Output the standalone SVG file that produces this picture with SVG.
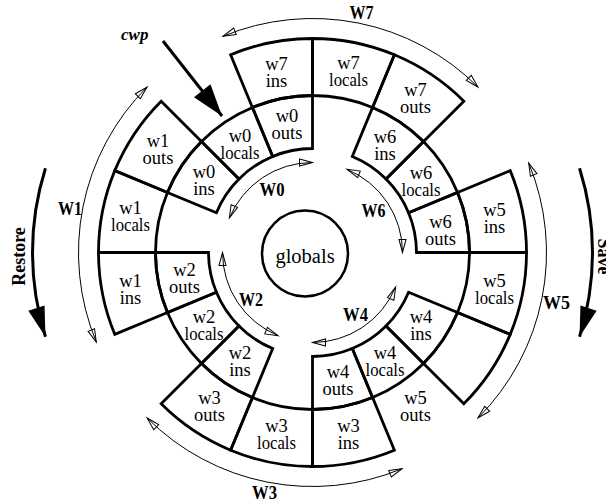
<svg xmlns="http://www.w3.org/2000/svg" width="606" height="502" viewBox="0 0 606 502">
<style>
.cellp{fill:none;stroke:#000;stroke-width:2.8;stroke-linejoin:miter}
.t{font-family:"Liberation Serif","Times New Roman",serif;font-size:18.5px;text-anchor:middle;fill:#000}
.wl{font-family:"Liberation Serif","Times New Roman",serif;font-size:18px;font-weight:bold;text-anchor:middle;fill:#000}
.thin{fill:none;stroke:#000;stroke-width:1;marker-start:url(#open);marker-end:url(#open)}
.thick{fill:none;stroke:#000;stroke-width:3}
</style>
<defs>
<marker id="open" markerUnits="userSpaceOnUse" markerWidth="20" markerHeight="20" refX="0" refY="0" orient="auto-start-reverse" style="overflow:visible">
<path d="M-13,-3.5 L0,0 L-13,3.5 Z" fill="none" stroke="#000" stroke-width="1"/>
</marker>
<marker id="big" markerUnits="userSpaceOnUse" markerWidth="40" markerHeight="30" refX="0" refY="0" orient="auto" style="overflow:visible">
<path d="M-30,-8.5 L0,0 L-30,8.5 Z" fill="#000"/>
</marker>
<marker id="cwpm" markerUnits="userSpaceOnUse" markerWidth="40" markerHeight="30" refX="0" refY="0" orient="auto" style="overflow:visible">
<path d="M-32,-10.5 L0,0 L-32,10.5 Z" fill="#000"/>
</marker>
</defs>
<rect width="606" height="502" fill="#fff"/>

<g id="globals">
<circle cx="305" cy="253.5" r="43" fill="none" stroke="#000" stroke-width="2.5"/>
<text class="t" x="305" y="263" style="font-size:20.5px">globals</text>
</g>

<g id="w0">
<path class="cellp" d="M216.42,212.70 L167.45,192.42 A157,157 0 0 1 201.48,141.48 L238.96,178.96 A104,104 0 0 0 216.42,212.70Z"/>
<path class="cellp" d="M238.96,178.96 L201.48,141.48 A157,157 0 0 1 252.42,107.45 L272.70,156.42 A104,104 0 0 0 238.96,178.96Z"/>
<path class="cellp" d="M272.70,156.42 L252.42,107.45 A157,157 0 0 1 312.5,95.5 L312.5,148.5 A104,104 0 0 0 272.70,156.42Z"/>
<text class="t" x="204" y="177.5">w0</text><text class="t" x="204" y="194.5">ins</text>
<text class="t" x="240" y="141.5">w0</text><text class="t" x="240" y="158.5" textLength="39" lengthAdjust="spacingAndGlyphs">locals</text>
<text class="t" x="287" y="122">w0</text><text class="t" x="287" y="139">outs</text>
</g>

<g id="w1">
<path class="cellp" d="M167.45,312.58 L114.79,334.39 A214,214 0 0 1 98.5,252.5 L155.5,252.5 A157,157 0 0 0 167.45,312.58Z"/>
<path class="cellp" d="M155.5,252.5 L98.5,252.5 A214,214 0 0 1 114.79,170.61 L167.45,192.42 A157,157 0 0 0 155.5,252.5Z"/>
<path class="cellp" d="M167.45,192.42 L114.79,170.61 A214,214 0 0 1 161.18,101.18 L201.48,141.48 A157,157 0 0 0 167.45,192.42Z"/>
<text class="t" x="158" y="147">w1</text><text class="t" x="158" y="164">outs</text>
<text class="t" x="130.5" y="214">w1</text><text class="t" x="130.5" y="231" textLength="39" lengthAdjust="spacingAndGlyphs">locals</text>
<text class="t" x="130.5" y="286.5">w1</text><text class="t" x="130.5" y="303.5">ins</text>
</g>

<g id="w2">
<path class="cellp" d="M272.70,348.58 L252.42,397.55 A157,157 0 0 1 201.48,363.52 L238.96,326.04 A104,104 0 0 0 272.70,348.58Z"/>
<path class="cellp" d="M238.96,326.04 L201.48,363.52 A157,157 0 0 1 167.45,312.58 L216.42,292.30 A104,104 0 0 0 238.96,326.04Z"/>
<path class="cellp" d="M216.42,292.30 L167.45,312.58 A157,157 0 0 1 155.5,252.5 L208.5,252.5 A104,104 0 0 0 216.42,292.30Z"/>
<text class="t" x="184.5" y="275.5">w2</text><text class="t" x="184.5" y="292.5">outs</text>
<text class="t" x="204" y="322.5">w2</text><text class="t" x="204" y="339.5" textLength="39" lengthAdjust="spacingAndGlyphs">locals</text>
<text class="t" x="240" y="358.5">w2</text><text class="t" x="240" y="375.5">ins</text>
</g>

<g id="w3">
<path class="cellp" d="M372.58,397.55 L394.39,450.21 A214,214 0 0 1 312.5,466.5 L312.5,409.5 A157,157 0 0 0 372.58,397.55Z"/>
<path class="cellp" d="M312.5,409.5 L312.5,466.5 A214,214 0 0 1 230.61,450.21 L252.42,397.55 A157,157 0 0 0 312.5,409.5Z"/>
<path class="cellp" d="M252.42,397.55 L230.61,450.21 A214,214 0 0 1 161.18,403.82 L201.48,363.52 A157,157 0 0 0 252.42,397.55Z"/>
<text class="t" x="209.5" y="404">w3</text><text class="t" x="209.5" y="421">outs</text>
<text class="t" x="276.5" y="432">w3</text><text class="t" x="276.5" y="449" textLength="39" lengthAdjust="spacingAndGlyphs">locals</text>
<text class="t" x="348.5" y="432">w3</text><text class="t" x="348.5" y="449">ins</text>
</g>

<g id="w4">
<path class="cellp" d="M408.58,292.30 L457.55,312.58 A157,157 0 0 1 423.52,363.52 L386.04,326.04 A104,104 0 0 0 408.58,292.30Z"/>
<path class="cellp" d="M386.04,326.04 L423.52,363.52 A157,157 0 0 1 372.58,397.55 L352.30,348.58 A104,104 0 0 0 386.04,326.04Z"/>
<path class="cellp" d="M352.30,348.58 L372.58,397.55 A157,157 0 0 1 312.5,409.5 L312.5,356.5 A104,104 0 0 0 352.30,348.58Z"/>
<text class="t" x="421" y="322.5">w4</text><text class="t" x="421" y="339.5">ins</text>
<text class="t" x="385" y="358.5">w4</text><text class="t" x="385" y="375.5" textLength="39" lengthAdjust="spacingAndGlyphs">locals</text>
<text class="t" x="338" y="378">w4</text><text class="t" x="338" y="395">outs</text>
</g>

<g id="w5">
<path class="cellp" d="M457.55,192.42 L510.21,170.61 A214,214 0 0 1 526.5,252.5 L469.5,252.5 A157,157 0 0 0 457.55,192.42Z"/>
<path class="cellp" d="M469.5,252.5 L526.5,252.5 A214,214 0 0 1 510.21,334.39 L457.55,312.58 A157,157 0 0 0 469.5,252.5Z"/>
<path class="cellp" d="M457.55,312.58 L510.21,334.39 A214,214 0 0 1 463.82,403.82 L423.52,363.52 A157,157 0 0 0 457.55,312.58Z"/>
<text class="t" x="494.5" y="215.5">w5</text><text class="t" x="494.5" y="232.5">ins</text>
<text class="t" x="494.5" y="286.5">w5</text><text class="t" x="494.5" y="303.5" textLength="39" lengthAdjust="spacingAndGlyphs">locals</text>
<text class="t" x="415.5" y="404">w5</text><text class="t" x="415.5" y="421">outs</text>
</g>

<g id="w6">
<path class="cellp" d="M352.30,156.42 L372.58,107.45 A157,157 0 0 1 423.52,141.48 L386.04,178.96 A104,104 0 0 0 352.30,156.42Z"/>
<path class="cellp" d="M386.04,178.96 L423.52,141.48 A157,157 0 0 1 457.55,192.42 L408.58,212.70 A104,104 0 0 0 386.04,178.96Z"/>
<path class="cellp" d="M408.58,212.70 L457.55,192.42 A157,157 0 0 1 469.5,252.5 L416.5,252.5 A104,104 0 0 0 408.58,212.70Z"/>
<text class="t" x="385" y="142.5">w6</text><text class="t" x="385" y="159.5">ins</text>
<text class="t" x="421" y="178.5">w6</text><text class="t" x="421" y="195.5" textLength="39" lengthAdjust="spacingAndGlyphs">locals</text>
<text class="t" x="440.5" y="227.5">w6</text><text class="t" x="440.5" y="244.5">outs</text>
</g>

<g id="w7">
<path class="cellp" d="M252.42,107.45 L230.61,54.79 A214,214 0 0 1 312.5,38.5 L312.5,95.5 A157,157 0 0 0 252.42,107.45Z"/>
<path class="cellp" d="M312.5,95.5 L312.5,38.5 A214,214 0 0 1 394.39,54.79 L372.58,107.45 A157,157 0 0 0 312.5,95.5Z"/>
<path class="cellp" d="M372.58,107.45 L394.39,54.79 A214,214 0 0 1 463.82,101.18 L423.52,141.48 A157,157 0 0 0 372.58,107.45Z"/>
<text class="t" x="276.5" y="69.5">w7</text><text class="t" x="276.5" y="86.5">ins</text>
<text class="t" x="348.5" y="68.5">w7</text><text class="t" x="348.5" y="85.5" textLength="39" lengthAdjust="spacingAndGlyphs">locals</text>
<text class="t" x="415.5" y="96">w7</text><text class="t" x="415.5" y="113">outs</text>
</g>

<g id="connectors">
<path class="thin" d="M229.35,218.06 A90,90 0 0 1 312.5,162.5"/>
<path class="thin" d="M278.06,335.65 A90,90 0 0 1 222.5,252.5"/>
<path class="thin" d="M395.65,286.94 A90,90 0 0 1 312.5,342.5"/>
<path class="thin" d="M346.94,169.35 A90,90 0 0 1 402.5,252.5"/>
<path class="thin" d="M96.31,342.05 A234,234 0 0 1 147.04,87.04"/>
<path class="thin" d="M402.05,468.69 A234,234 0 0 1 147.04,417.96"/>
<path class="thin" d="M528.69,162.95 A234,234 0 0 1 477.96,417.96"/>
<path class="thin" d="M222.95,36.31 A234,234 0 0 1 477.96,87.04"/>
<path class="thick" d="M45.46,168.3 A280,280 0 0 0 45.46,336.7" marker-end="url(#big)"/>
<path class="thick" d="M579.54,168.3 A280,280 0 0 1 579.54,336.7" marker-end="url(#big)"/>
<path class="thick" d="M163,41 L222,116" marker-end="url(#cwpm)"/>
</g>

<g id="labels">
<text class="wl" x="272" y="195.5" textLength="25" lengthAdjust="spacingAndGlyphs">W0</text>
<text class="wl" x="70" y="215" textLength="24" lengthAdjust="spacingAndGlyphs">W1</text>
<text class="wl" x="251" y="306" textLength="24" lengthAdjust="spacingAndGlyphs">W2</text>
<text class="wl" x="264.5" y="498.5" textLength="25" lengthAdjust="spacingAndGlyphs">W3</text>
<text class="wl" x="355.5" y="321" textLength="25" lengthAdjust="spacingAndGlyphs">W4</text>
<text class="wl" x="556.5" y="309" textLength="27" lengthAdjust="spacingAndGlyphs">W5</text>
<text class="wl" x="373.5" y="216.5" textLength="24" lengthAdjust="spacingAndGlyphs">W6</text>
<text class="wl" x="361.5" y="18.5" textLength="24" lengthAdjust="spacingAndGlyphs">W7</text>
<text class="wl" transform="translate(25,256.5) rotate(-90)" x="0" y="0">Restore</text>
<text class="wl" transform="translate(598,256.5) rotate(90)" x="0" y="0">Save</text>
<text x="121" y="40" style="font-family:'Liberation Serif','Times New Roman',serif;font-size:17px;font-weight:bold;font-style:italic">cwp</text>
</g>
</svg>
